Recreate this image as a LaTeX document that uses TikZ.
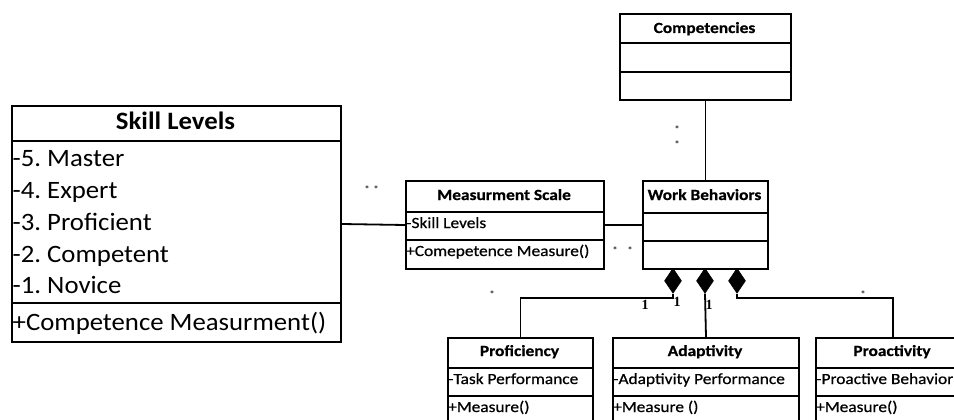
\documentclass[tikz,border=0pt]{standalone}
\usepackage{fontspec}
\setmainfont{Carlito}
\newfontfamily\bigfont[FakeStretch=1.07]{Carlito}
\newfontfamily\smfont[FakeStretch=1.12,FakeBold=0.6]{Carlito}
\newfontfamily\numfont{Liberation Serif}
\usetikzlibrary{shapes.geometric}
\frenchspacing
\newcommand{\umlbox}[7]{%
  \node[box, minimum width=#4-#2, minimum height=#7-#3] (#1) at (#2,#3) {};
  \draw[div] (#2,#5) -- (#4,#5);
  \draw[div] (#2,#6) -- (#4,#6);}
\tikzset{
  box/.style={draw, line width=2pt, inner sep=0, anchor=north west},
  div/.style={line width=2pt},
  conn/.style={line width=1.8pt},
  bigtxt/.style={font=\bigfont\fontsize{25}{30}\selectfont, anchor=base west, inner sep=0},
  bighead/.style={font=\bigfont\fontsize{25}{30}\selectfont\bfseries, anchor=base, inner sep=0},
  smhead/.style={font=\smfont\fontsize{15.5}{18}\selectfont\bfseries, anchor=base, inner sep=0},
  smtxt/.style={font=\smfont\fontsize{15.5}{18}\selectfont, anchor=base west, inner sep=0},
  mult/.style={font=\fontsize{11}{12}\selectfont, inner sep=0},
  one/.style={font=\numfont\fontsize{14}{16}\selectfont\bfseries, inner sep=0},
  dia/.style={diamond, fill=black, draw=black, line width=0.6pt, minimum width=17pt, minimum height=25pt, inner sep=0, anchor=north}
}
\begin{document}
\begin{tikzpicture}[x=1pt,y=-1pt]
\useasboundingbox (0,0) rectangle (954,420);
\clip (0,0) rectangle (954,420);
% Skill Levels
\umlbox{sl}{11}{105}{340}{141}{303}{341}
\node[bighead] (slh) at (175.5,129) {Skill Levels};
\node[bigtxt] (sl1) at (12.5,166) {-5. Master};
\node[bigtxt] (sl2) at (12.5,198) {-4. Expert};
\node[bigtxt] (sl3) at (12.5,230) {-3. Proficient};
\node[bigtxt] (sl4) at (12.5,262) {-2. Competent};
\node[bigtxt] (sl5) at (12.5,293) {-1. Novice};
\node[bigtxt] (slm) at (12.5,330) {+Competence Measurment()};
% Measurement Scale
\umlbox{ms}{405}{180}{603}{212}{240}{268}
\node[smhead] (msh) at (504,200) {Measurment Scale};
\node[smtxt] (msa) at (406,228) {-Skill Levels};
\node[smtxt] (msm) at (406,256) {+Comepetence Measure()};
% Competencies
\umlbox{comp}{619}{13}{790}{43}{72}{99}
\node[smhead] (comph) at (704.5,33) {Competencies};
% Work Behaviors
\umlbox{wb}{642}{180}{767}{213}{241}{268}
\node[smhead] (wbh) at (704.5,200) {Work Behaviors};
% Bottom classes
\umlbox{prof}{447}{337}{592}{368}{396}{426}
\node[smhead] (profh) at (519.5,356) {Proficiency};
\node[smtxt] (profa) at (448,384) {-Task Performance};
\node[smtxt] (profm) at (448,412) {+Measure()};
\umlbox{adap}{612}{337}{798}{368}{396}{426}
\node[smhead] (adaph) at (705,356) {Adaptivity};
\node[smtxt] (adapa) at (613,384) {-Adaptivity Performance};
\node[smtxt] (adapm) at (613,412) {+Measure ()};
\umlbox{proa}{815}{337}{969}{368}{396}{426}
\node[smhead] (proah) at (892,356) {Proactivity};
\node[smtxt] (proaa) at (816,384) {-Proactive Behavior};
\node[smtxt] (proam) at (816,412) {+Measure()};
% connectors
\draw[conn] (sl.east) -- (ms.west);
\draw[conn] (ms.east) -- (wb.west);
\draw[conn] (comp.south) -- (wb.north);
\node[dia] (d1) at (673,268) {};
\node[dia] (d2) at (705,268) {};
\node[dia] (d3) at (737,268) {};
\coordinate (bus) at (0,298);
\draw[conn] (d1.south) |- (bus -| prof.north) -- (prof.north);
\draw[conn] (d2.south) -- (adap.north);
\draw[conn] (d3.south) |- (bus -| proa.north) -- (proa.north);
% multiplicities
\node[mult] (m1) at (367,190) {*};
\node[mult] (m2) at (376,190) {*};
\node[mult] (m3) at (615,251) {*};
\node[mult] (m4) at (630,251) {*};
\node[mult] (m5) at (677,130) {*};
\node[mult] (m6) at (677,145) {*};
\node[mult] (m7) at (492,295) {*};
\node[mult] (m8) at (863,295) {*};
\node[one] (o1) at (645,305) {1};
\node[one] (o2) at (677,302) {1};
\node[one] (o3) at (709,305) {1};
\end{tikzpicture}
\end{document}
